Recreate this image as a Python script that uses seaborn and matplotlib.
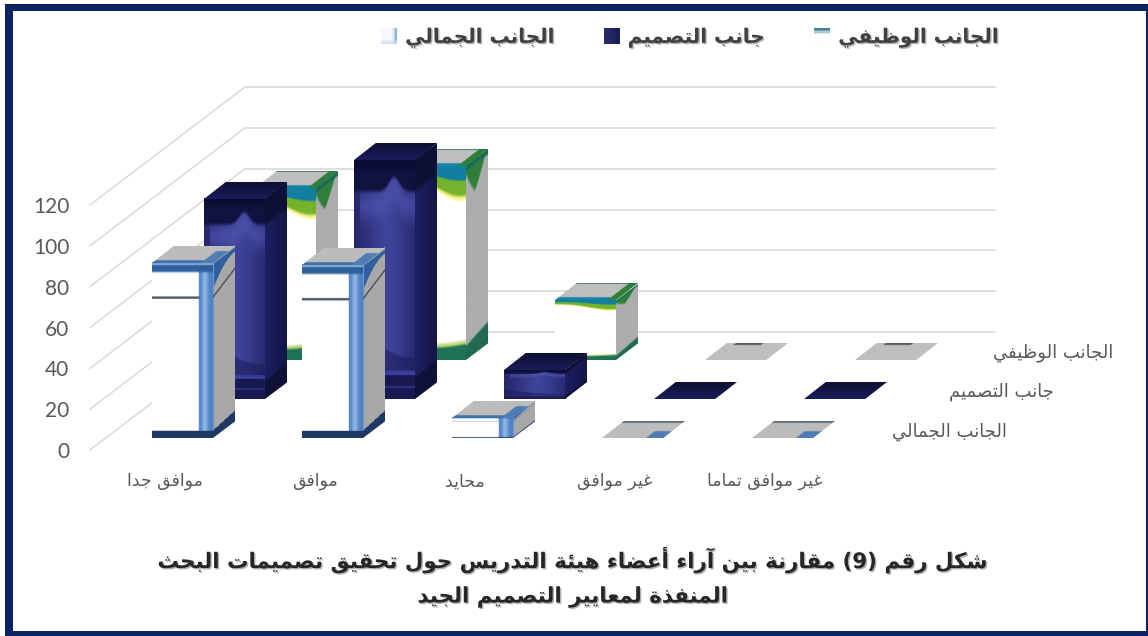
import numpy as np
import pandas as pd
import matplotlib
matplotlib.use("Agg")
import matplotlib.pyplot as plt
import matplotlib.patheffects as pe
import seaborn as sns
from matplotlib.colors import to_rgb
from matplotlib.legend_handler import HandlerBase
from matplotlib.patches import Patch, Rectangle
from matplotlib.transforms import Affine2D

# ---- chart data -------------------------------------------------------------
categories = ["موافق جدا", "موافق", "محايد", "غير موافق", "غير موافق تماما"]
aesthetic = [86, 85, 10, 0, 0]
design = [98, 117, 14, 0, 0]
functional = [84, 95, 29, 0, 0]
series_names = ["الجانب الجمالي", "جانب التصميم", "الجانب الوظيفي"]
value_ticks = [0, 20, 40, 60, 80, 100, 120]
title_lines = [
    "شكل رقم (9) مقارنة بين آراء أعضاء هيئة التدريس حول تحقيق تصميمات البحث",
    "المنفذة لمعايير التصميم الجيد",
]

# ---- Arabic shaping: matplotlib lays glyphs out left to right, unjoined -------
FOUR = dict(zip("ئبتثجحخسشصضطظعغفقكلمنهي",
                [0xFE89, 0xFE8F, 0xFE95, 0xFE99, 0xFE9D, 0xFEA1, 0xFEA5, 0xFEB1, 0xFEB5,
                 0xFEB9, 0xFEBD, 0xFEC1, 0xFEC5, 0xFEC9, 0xFECD, 0xFED1, 0xFED5, 0xFED9,
                 0xFEDD, 0xFEE1, 0xFEE5, 0xFEE9, 0xFEF1]))
TWO = dict(zip("آأؤإاةدذرزوى",
               [0xFE81, 0xFE83, 0xFE85, 0xFE87, 0xFE8D, 0xFE93, 0xFEA9, 0xFEAB, 0xFEAD,
                0xFEAF, 0xFEED, 0xFEEF]))
LAM_ALEF = {"آ": 0xFEF5, "أ": 0xFEF7, "إ": 0xFEF9, "ا": 0xFEFB}


def shape(text):
    out = []
    i = 0
    n = len(text)
    while i < n:
        ch = text[i]
        prev_joins = i > 0 and text[i - 1] in FOUR
        if ch == "ل" and i + 1 < n and text[i + 1] in LAM_ALEF:
            out.append(chr(LAM_ALEF[text[i + 1]] + (1 if prev_joins else 0)))
            i += 2
            continue
        next_joins = i + 1 < n and (text[i + 1] in FOUR or text[i + 1] in TWO)
        if ch in FOUR:
            form = (3 if next_joins else 1) if prev_joins else (2 if next_joins else 0)
            out.append(chr(FOUR[ch] + form))
        elif ch in TWO:
            out.append(chr(TWO[ch] + (1 if prev_joins else 0)))
        elif ch == "ء":
            out.append(chr(0xFE80))
        else:
            out.append(ch)
        i += 1
    visual = "".join(reversed(out))
    return visual.translate(str.maketrans("()", ")("))


# ---- face textures, each an RGB image over the unit square of a bar face ------
N = 220
uu, vv = np.meshgrid(np.linspace(0, 1, N), np.linspace(0, 1, N))


def solid(c):
    return np.ones((N, N, 3)) * np.array(to_rgb(c))


def paint(img, mask, c):
    img[mask] = to_rgb(c)


def blend(c1, c2, t):
    t = np.clip(t, 0, 1)[..., None]
    return np.array(to_rgb(c1)) * (1 - t) + np.array(to_rgb(c2)) * t


def overlay(img, c, t):
    t = np.clip(t, 0, 1)[..., None]
    return img * (1 - t) + np.array(to_rgb(c)) * t


def step(x, soft=0.012):
    return np.clip(x / soft + 0.5, 0, 1)


def aesthetic_front():
    img = solid("#ffffff")
    stripe = blend("#4f81c4", "#8fb6e6", np.exp(-((uu - 0.87) / 0.05) ** 2))
    img[uu > 0.77] = stripe[uu > 0.77]
    paint(img, (np.abs(vv - 0.80) < 0.006) & (uu < 0.78), "#4d5a68")
    img = overlay(img, "#2f5f9e", step(vv - 0.945))
    paint(img, vv > 0.985, "#7fa3cc")
    paint(img, vv < 0.04, "#1f3864")
    return img


def aesthetic_side():
    img = solid("#a8a8a8")
    paint(img, (vv > 0.965 - 0.12 * (1 - uu) ** 2) & (vv < 0.99), "#2f5f9e")
    paint(img, uu < 0.05, "#6f97c8")
    paint(img, np.abs(vv - (0.80 + 0.07 * uu)) < 0.006, "#3f4a58")
    paint(img, vv < 0.04 + 0.02 * uu, "#1f3864")
    return img


def aesthetic_top(flat=False):
    img = solid("#bcbcbc")
    if flat:
        paint(img, vv > 0.9, "#5c6a78")
        paint(img, (uu > 0.72) & (vv < 0.4), "#4f7db5")
        return img
    paint(img, vv < 0.16, "#3f72ad")
    paint(img, (uu > 0.8) & (vv < 0.7), "#4f7db5")
    return img


def design_front():
    img = blend("#1b1e5c", "#3f4399", 0.2 + 0.8 * np.exp(-((uu - 0.55) / 0.36) ** 2))
    arch = 0.87 + 0.06 * np.exp(-((uu - 0.66) / 0.12) ** 2)
    img = overlay(img, "#4e52ad", 0.7 * np.exp(-(((vv - arch + 0.06) / 0.06) ** 2)) * (uu > 0.1))
    img = overlay(img, "#10133f", step(vv - arch, 0.02))
    img = overlay(img, "#0a0c2e", step(vv - 0.96, 0.03) * 0.7)
    rim = 0.17 + 0.16 * (1 - uu) ** 2
    img = overlay(img, "#191b56", 0.55 * step(rim - vv, 0.01))
    paint(img, vv < 0.10, "#181a52")
    paint(img, (vv > 0.10) & (vv < 0.115), "#3a3ea0")
    paint(img, (vv > 0.045) & (vv < 0.052), "#2c2f7c")
    return img


def design_side():
    img = blend("#1c1f62", "#131646", uu)
    img = overlay(img, "#0e1034", step(vv - 0.87, 0.03))
    paint(img, vv < 0.09, "#0f1138")
    return img


def design_top(flat=False):
    return blend("#1a1d5c", "#0d0f32", vv)


def functional_front():
    img = solid("#ffffff")
    thick = 0.075 + 0.10 * np.exp(-((uu - 0.9) / 0.45) ** 2)
    t = (1 - vv) / thick
    img = overlay(img, "#f4f27c", step(1.0 - t, 0.12))
    img = overlay(img, "#74b32c", step(0.88 - t, 0.1))
    img = overlay(img, "#127fa0", step(0.42 - t, 0.06))
    low = 0.06 + 0.05 * (uu - 0.35) ** 2
    img = overlay(img, "#c4dc78", step(low + 0.02 - vv, 0.015))
    img = overlay(img, "#1f7256", step(low - vv, 0.015))
    return img


def functional_side():
    img = solid("#adadad")
    edge = 0.84 + 0.35 * np.abs(uu - 0.4) ** 1.2
    img = overlay(img, "#2f7f3a", step(vv - edge, 0.02))
    img = overlay(img, "#1a6a5a", step(vv - 0.975, 0.015))
    img = overlay(img, "#1f6b52", step(0.07 + 0.04 * uu - vv, 0.015))
    return img


def functional_top(flat=False):
    img = solid("#bfbfbf")
    if flat:
        paint(img, (vv > 0.88) & (uu > 0.15) & (uu < 0.6), "#55606a")
        return img
    paint(img, vv < 0.16, "#1683a6")
    paint(img, (uu > 0.86), "#2f7f3a")
    paint(img, vv > 0.96, "#1a6a5a")
    return img


def key_aesthetic():
    img = solid("#f6f9fd")
    img = overlay(img, "#7ea6d8", (uu - 0.7) / 0.3)
    return overlay(img, "#c9d9ee", (0.25 - vv) / 0.25)


def key_design():
    return blend("#2a2d70", "#1a1c55", uu)


def key_functional():
    img = solid("#fbfefd")
    return overlay(img, "#2c6f80", (vv - 0.6) / 0.4)


faces = [
    (aesthetic_front, aesthetic_side, aesthetic_top, key_aesthetic),
    (design_front, design_side, design_top, key_design),
    (functional_front, functional_side, functional_top, key_functional),
]

# ---- figure -------------------------------------------------------------------
sns.set_theme(style="white")
plt.rcParams["font.family"] = ["DejaVu Sans"]
W, H = 1148, 636
fig = plt.figure(figsize=(W / 100, H / 100), dpi=100, facecolor="white")
ax = fig.add_axes([90 / W, (H - 450) / H, 750 / W, 245 / H])
ax.set_facecolor("none")

# oblique depth: depth 1 is the back wall, 155 px right and 118 px up
DEPTH_X = 155 / 150
DEPTH_Y = 118 / (245 / 120)
BAR_DEPTH = 0.14
BAR_WIDTH = 61 / 150
BAR_SHIFT = 2 / 150
series_depth = [0.10, 0.4333, 0.7667]


def project(x, value, depth):
    return x + depth * DEPTH_X, value + depth * DEPTH_Y


def textured_face(tex, origin, corner_u, corner_v, z):
    ox, oy = origin
    matrix = Affine2D.from_values(corner_u[0] - ox, corner_u[1] - oy,
                                  corner_v[0] - ox, corner_v[1] - oy, ox, oy)
    # an alpha channel keeps the area outside the sheared face transparent
    rgba = np.dstack([tex, np.ones(tex.shape[:2])])
    ax.imshow(rgba, extent=(0, 1, 0, 1), origin="lower", aspect="auto",
              interpolation="bilinear", zorder=z, clip_on=False,
              transform=matrix + ax.transData)


# walls: one line across the back and one running back along the left per tick
for v in value_ticks:
    back_l = project(-0.5, v, 1)
    back_r = project(4.5, v, 1)
    front = project(-0.5, v, 0)
    ax.plot([back_l[0], back_r[0]], [back_l[1], back_r[1]], color="#dcdcdc", lw=1.3,
            clip_on=False, zorder=1)
    ax.plot([front[0], back_l[0]], [front[1], back_l[1]], color="#d6d6d6", lw=1.0,
            clip_on=False, zorder=1)

# bars are drawn from the back series to the front one
all_values = [aesthetic, design, functional]
base_colors = ["#ffffff", "#1f2268", "#ffffff"]
for idx in (2, 1, 0):
    frame = pd.DataFrame({"category": categories, "value": all_values[idx]})
    before = len(ax.patches)
    sns.barplot(data=frame, x="category", y="value", order=categories, color=base_colors[idx],
                width=BAR_WIDTH, saturation=1, errorbar=None, ax=ax, zorder=2 + 2 * (2 - idx))
    d0 = series_depth[idx]
    d1 = d0 + BAR_DEPTH
    z = 3 + 2 * (2 - idx)
    front_tex = faces[idx][0]()
    side_tex = faces[idx][1]()
    top_fn = faces[idx][2]
    for bar in ax.patches[before:]:
        x0 = bar.get_x() + BAR_SHIFT
        x1 = x0 + bar.get_width()
        h = bar.get_height()
        bar.set_transform(Affine2D().translate(BAR_SHIFT + d0 * DEPTH_X, d0 * DEPTH_Y) + ax.transData)
        bar.set_clip_on(False)
        bar.set_linewidth(0)
        if h > 0:
            textured_face(front_tex, project(x0, 0, d0), project(x1, 0, d0), project(x0, h, d0), z)
            textured_face(side_tex, project(x1, 0, d0), project(x1, 0, d1), project(x1, h, d0), z)
        textured_face(top_fn(flat=h == 0), project(x0, h, d0), project(x1, h, d0),
                      project(x0, h, d1), z)

ax.set_xlim(-0.5, 4.5)
ax.set_ylim(0, 120)
ax.set_xlabel("")
ax.set_ylabel("")
sns.despine(ax=ax, left=True, bottom=True)

ax.set_yticks(value_ticks)
ax.set_yticklabels([str(v) for v in value_ticks], family="Lato", fontsize=15, color="#595959")
ax.set_xticks(range(len(categories)))
ax.set_xticklabels([shape(c) for c in categories], fontsize=12.5, color="#595959")
ax.tick_params(axis="y", length=0, pad=15)
ax.tick_params(axis="x", length=0, pad=16)

# series names along the depth axis
for name, d0 in zip(series_names, series_depth):
    anchor = project(4.5, 0, d0 + BAR_DEPTH / 2)
    ax.annotate(shape(name), xy=anchor, xytext=(60, -1), textcoords="offset points",
                ha="center", va="center", fontsize=13, color="#595959", annotation_clip=False)


class TexturedHandle(HandlerBase):
    """Legend key filled with a coarse copy of a small shaded swatch."""

    def create_artists(self, legend, orig_handle, xdescent, ydescent, width, height,
                       fontsize, trans):
        tex = orig_handle.texture
        cells = 10
        cell = N // cells
        pieces = []
        for row in range(cells):
            for col in range(cells):
                pieces.append(Rectangle(
                    (-xdescent + col * width / cells, -ydescent + row * height / cells),
                    width / cells * 1.05, height / cells * 1.05,
                    facecolor=tex[row * cell + cell // 2, col * cell + cell // 2],
                    edgecolor="none", antialiased=False, transform=trans))
        return pieces


handles = []
for idx, name in enumerate(series_names):
    key = Patch(label=shape(name))
    key.texture = faces[idx][3]()
    handles.append(key)

shadow = [pe.SimplePatchShadow(offset=(1, -1), shadow_rgbFace="#808080", alpha=0.6), pe.Normal()]
legend = fig.legend(handles=handles, ncol=3, loc="center", bbox_to_anchor=(690 / W, 1 - 38 / H),
                    frameon=False, handler_map={Patch: TexturedHandle()},
                    prop={"family": "DejaVu Sans", "weight": "bold", "size": 14.4},
                    handlelength=0.8, handleheight=0.8, handletextpad=0.4, columnspacing=2.45)
for label in legend.get_texts():
    label.set_color("#404040")
    label.set_path_effects(shadow)

# two-line caption
title_shadow = [pe.SimplePatchShadow(offset=(1, -1), shadow_rgbFace="#909090", alpha=0.7), pe.Normal()]
for line, y_px in zip(title_lines, (560, 597)):
    fig.text(572 / W, 1 - y_px / H, shape(line), ha="center", va="center", fontsize=15.4,
             fontweight="bold", color="#262626", path_effects=title_shadow)

# navy frame round the chart
navy = "#0b2265"
for x, y, w, h in [(5, 4, W - 5, 7), (5, 4, 8, H - 4), (W - 2, 4, 2, H - 4), (5, 631, W - 5, 5)]:
    fig.add_artist(Rectangle((x / W, 1 - (y + h) / H), w / W, h / H, facecolor=navy,
                             edgecolor="none", transform=fig.transFigure))

fig.savefig("out.png", dpi=100, facecolor="white")
